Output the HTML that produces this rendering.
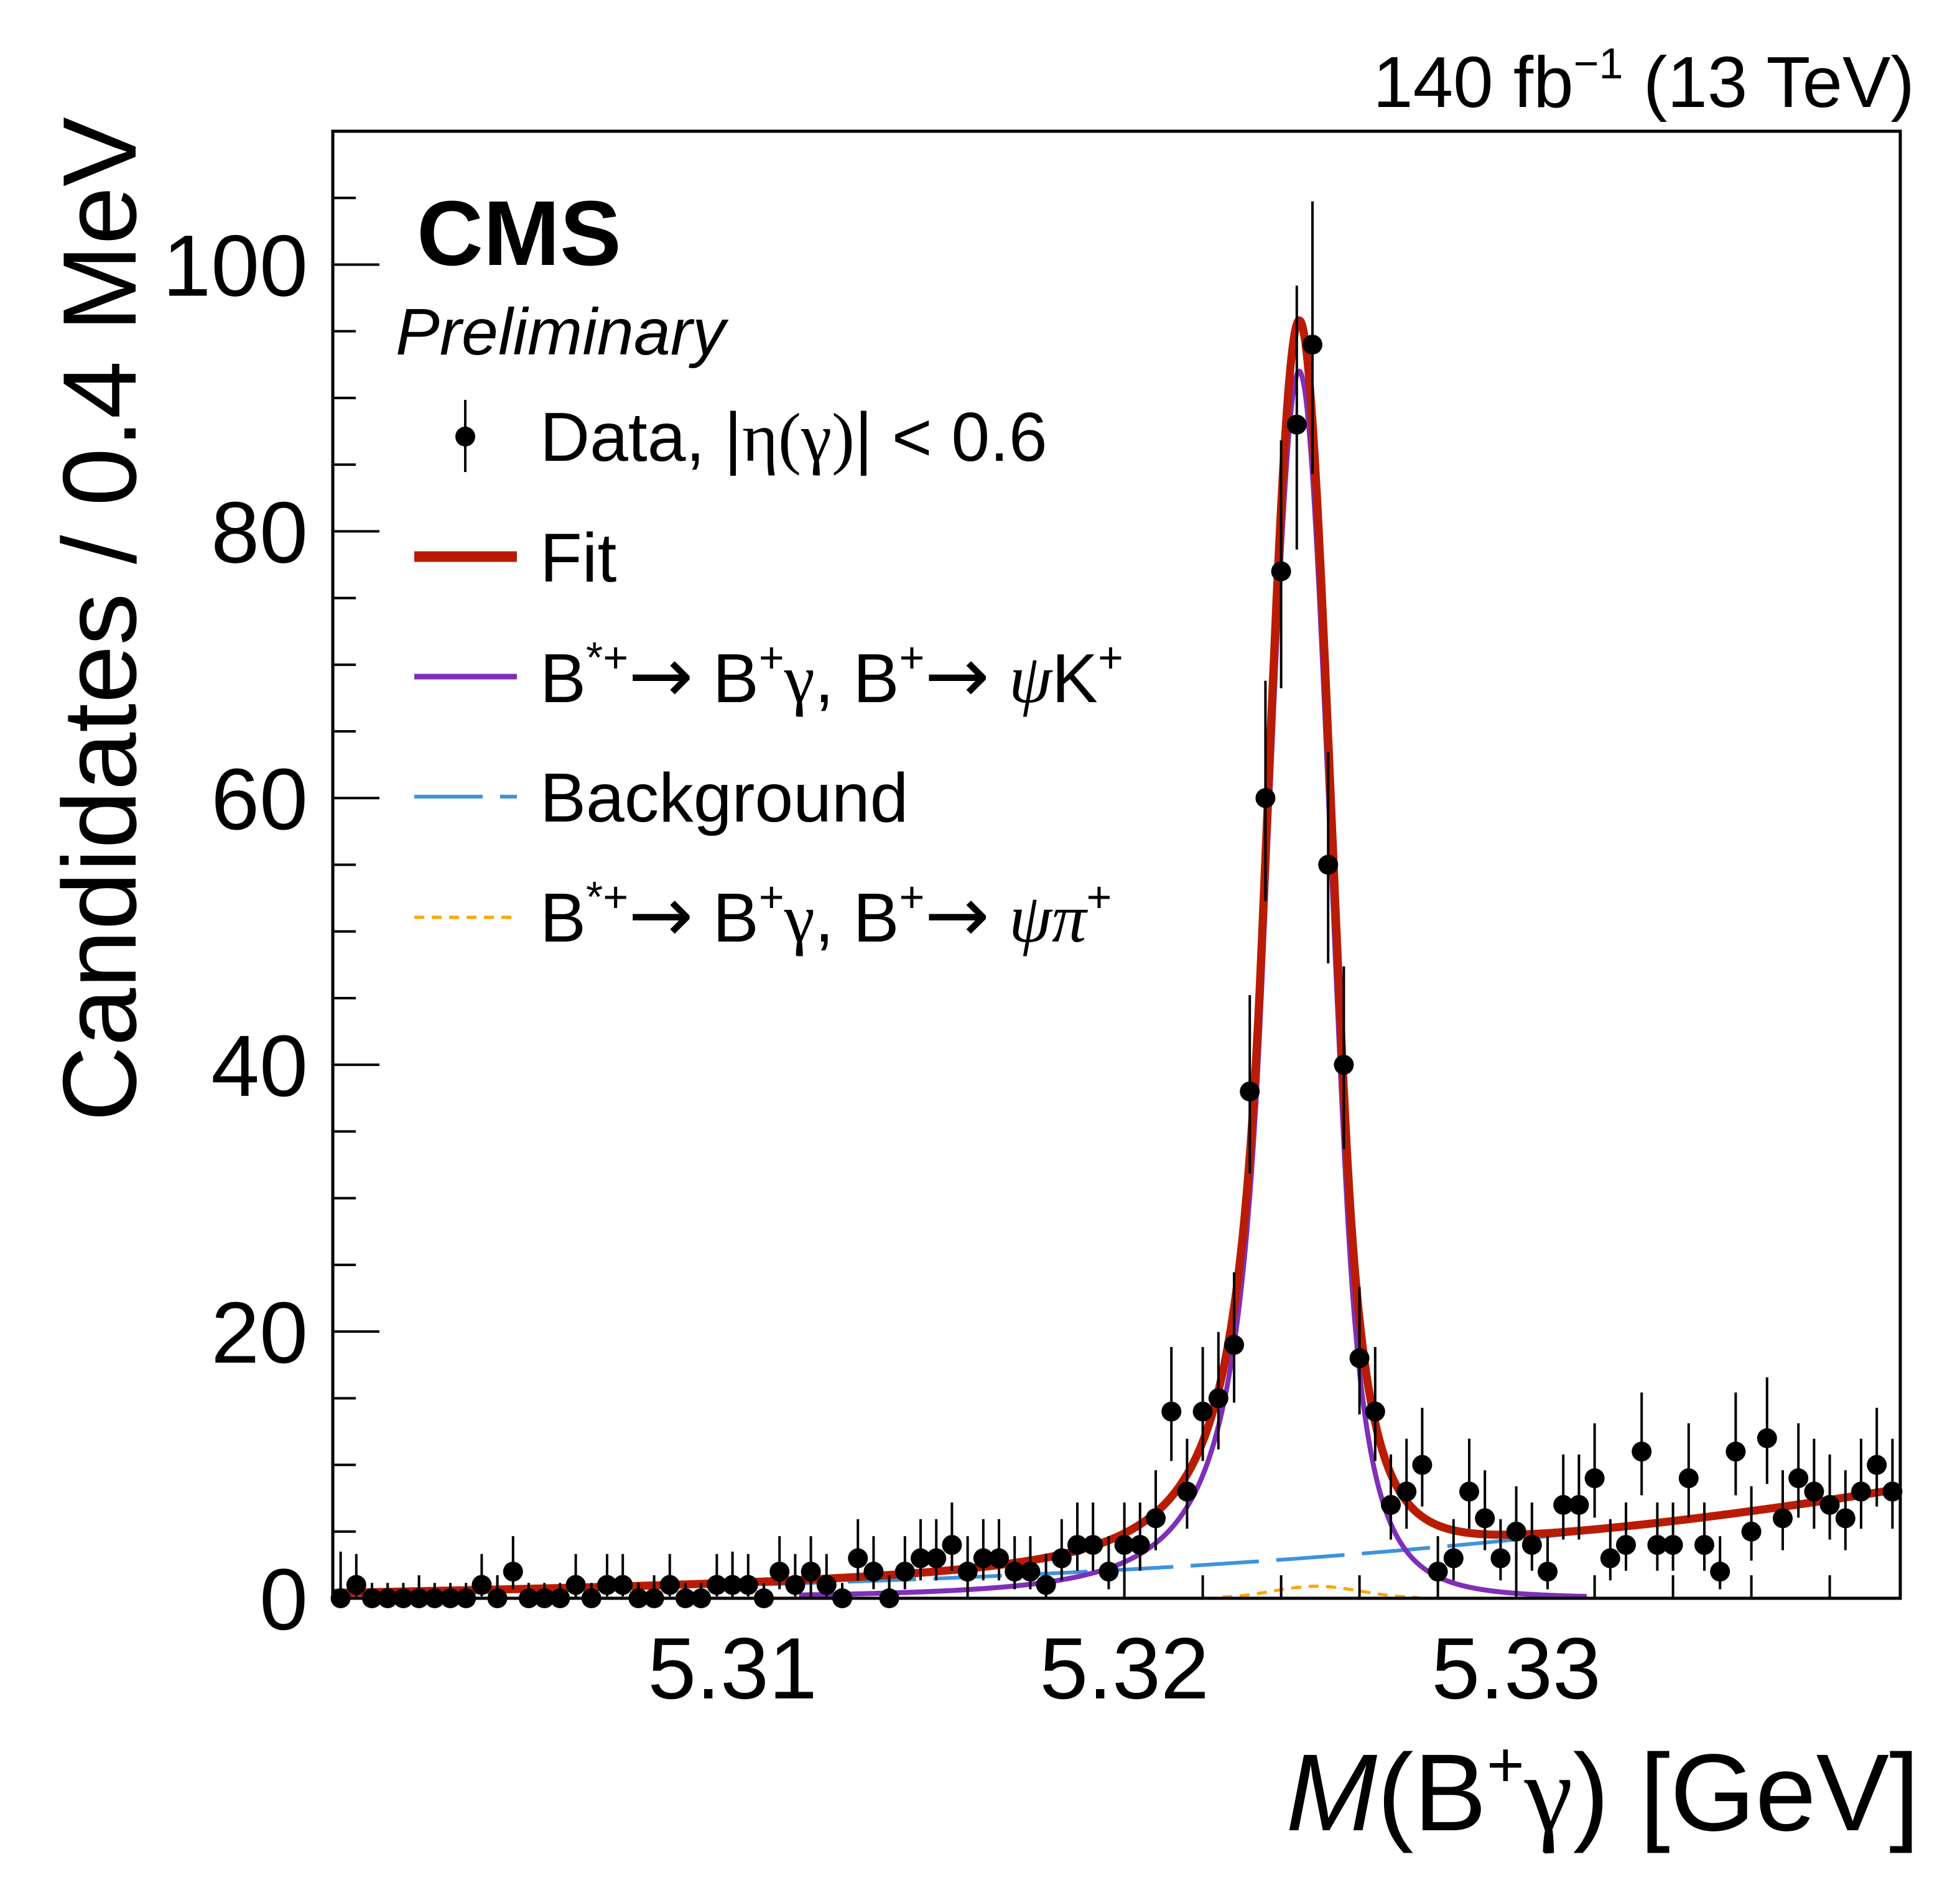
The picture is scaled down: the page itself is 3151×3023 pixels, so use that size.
<!DOCTYPE html>
<html><head><meta charset="utf-8">
<style>
html,body{margin:0;padding:0;background:#fff;}
svg{display:block;font-family:"Liberation Sans",sans-serif;}
</style></head>
<body>
<svg id="chart" width="3151" height="3023" viewBox="0 0 3151 3023" xmlns="http://www.w3.org/2000/svg">
<rect x="0" y="0" width="3151" height="3023" fill="#fff"/>
<g id="curves"></g>
<g id="points"></g>
<g id="axes"></g>
<rect x="535" y="211" width="2520" height="2359" fill="none" stroke="#000" stroke-width="5"/>
<text x="670" y="426" font-size="148" font-weight="bold">CMS</text>
<text x="636" y="570" font-size="106" font-style="italic">Preliminary</text>
<text x="3078" y="172" font-size="116" text-anchor="end">140 fb<tspan font-size="70" dy="-46">−1</tspan><tspan dy="46"> (13 TeV)</tspan></text>
<text transform="translate(218,188) rotate(-90)" font-size="168" text-anchor="end">Candidates / 0.4 MeV</text>
<text x="3086" y="2943" font-size="176" text-anchor="end"><tspan font-style="italic">M</tspan>(B<tspan font-size="104" dy="-70">+</tspan><tspan dy="70" font-family="'Liberation Serif',serif">γ</tspan>) [GeV]</text>
<g font-size="111">
 <g>
  <line x1="748" y1="643" x2="748" y2="759" stroke="#000" stroke-width="4"/>
  <circle cx="748" cy="702" r="16" fill="#000"/>
  <text x="868" y="741">Data, |<tspan font-family="'Liberation Serif',serif">η(γ)</tspan>| &lt; 0.6</text>
 </g>
 <g>
  <line x1="666" y1="895" x2="831" y2="895" stroke="#b91c02" stroke-width="17"/>
  <text x="868" y="935">Fit</text>
 </g>
 <g>
  <line x1="666" y1="1088" x2="831" y2="1088" stroke="#7f2fb8" stroke-width="9"/>
  <text x="868" y="1129">B<tspan font-size="70" dy="-48">*+</tspan><tspan dy="48" font-family="'DejaVu Sans',sans-serif" font-size="125">→</tspan> B<tspan font-size="70" dy="-48">+</tspan><tspan dy="48" font-family="'Liberation Serif',serif">γ</tspan>, B<tspan font-size="70" dy="-48">+</tspan><tspan dy="48" font-family="'DejaVu Sans',sans-serif" font-size="125">→</tspan> <tspan font-family="'Liberation Serif',serif" font-style="italic">ψ</tspan>K<tspan font-size="70" dy="-48">+</tspan></text>
 </g>
 <g>
  <line x1="666" y1="1281" x2="831" y2="1281" stroke="#3d93de" stroke-width="6" stroke-dasharray="110,28"/>
  <text x="868" y="1321">Background</text>
 </g>
 <g>
  <line x1="666" y1="1475" x2="831" y2="1475" stroke="#ffa500" stroke-width="5" stroke-dasharray="16,12"/>
  <text x="868" y="1514">B<tspan font-size="70" dy="-48">*+</tspan><tspan dy="48" font-family="'DejaVu Sans',sans-serif" font-size="125">→</tspan> B<tspan font-size="70" dy="-48">+</tspan><tspan dy="48" font-family="'Liberation Serif',serif">γ</tspan>, B<tspan font-size="70" dy="-48">+</tspan><tspan dy="48" font-family="'DejaVu Sans',sans-serif" font-size="125">→</tspan> <tspan font-family="'Liberation Serif',serif" font-style="italic">ψπ</tspan><tspan font-size="70" dy="-48">+</tspan></text>
 </g>
</g>
</svg>
<script>
const counts = [0,1,0,0,0,0,0,0,0,1, 0,2,0,0,0,1,0,1,1,0, 0,1,0,0,1,1,1,0,2,1, 2,1,0,3,2,0,2,3,3,4, 2,3,3,2,2,1,3,4,4,2, 4,4,6,14,8,14,15,19,38,60, 77,88,94,55,40,18,14,7,8,10, 2,3,8,6,3,5,4,2,7,7, 9,3,4,11,4,4,9,4,2,11, 5,12,6,9,8,7,6,8,10,8];
const binStart = 5.2998;
const binWidth = 0.0004;
const xTicks = [5.31, 5.32, 5.33];
const xTickLabels = ["5.31", "5.32", "5.33"];
const yTicks = [0, 20, 40, 60, 80, 100];
const yTickLabels = ["0", "20", "40", "60", "80", "100"];
// fit model parameters
const sigPeak = [92];
const sigMean = [5.32446];
const sigSigma = [0.00081];
const bgParams = [0.35, 52.3, 90000];
const piParams = [0.9, 5.3249, 0.0011];

const NS = "http://www.w3.org/2000/svg";
const X0 = 535, X1 = 3055, Y0 = 2570, Y1 = 211;
const xmin = 5.2998, xmax = 5.3398, ymin = 0, ymax = 110;
const sx = v => X0 + (v - xmin) / (xmax - xmin) * (X1 - X0);
const sy = v => Y0 - (v - ymin) / (ymax - ymin) * (Y0 - Y1);
function mk(tag, attrs, parent) {
  const e = document.createElementNS(NS, tag);
  for (const k in attrs) e.setAttribute(k, attrs[k]);
  parent.appendChild(e);
  return e;
}
function cb(t) {
  const aL = 1.2, nL = 2.5, aR = 1.5, nR = 4;
  if (t < -aL) {
    const A = Math.pow(nL / aL, nL) * Math.exp(-aL * aL / 2), B = nL / aL - aL;
    return A / Math.pow(B - t, nL);
  }
  if (t > aR) {
    const A = Math.pow(nR / aR, nR) * Math.exp(-aR * aR / 2), B = nR / aR - aR;
    return A / Math.pow(B + t, nR);
  }
  return Math.exp(-t * t / 2);
}
const sig = x => sigPeak[0] * cb((x - sigMean[0]) / sigSigma[0]);
const bg = x => { const d = Math.max(0, x - xmin); return bgParams[0] + bgParams[1] * d + bgParams[2] * d * d * d; };
const pip = x => piParams[0] * Math.exp(-0.5 * Math.pow((x - piParams[1]) / piParams[2], 2));

const axes = document.getElementById('axes');
for (let v = 0; v <= 110; v += 5) {
  const major = v % 20 === 0;
  const t = mk('line', {x1: X0, x2: X0 + (major ? 75 : 37), y1: sy(v), y2: sy(v), stroke: '#000', 'stroke-width': 4}, axes);
  
  
}
yTicks.forEach((v, i) => {
  const t = mk('text', {x: 495, y: sy(v) + 50, 'font-size': 140, 'text-anchor': 'end'}, axes);
  t.textContent = yTickLabels[i];
  
  
});
for (let k = 0; k <= 20; k++) {
  const v = 5.300 + k * 0.002;
  if (v > xmax) break;
  const major = Math.abs(Math.round(v * 100) - v * 100) < 1e-6;
  const t = mk('line', {x1: sx(v), x2: sx(v), y1: Y0, y2: Y0 - (major ? 75 : 37), stroke: '#000', 'stroke-width': 4}, axes);
  
  
}
xTicks.forEach((v, i) => {
  const t = mk('text', {x: sx(v), y: 2731, 'font-size': 140, 'text-anchor': 'middle'}, axes);
  t.textContent = xTickLabels[i];
  
  
});

const curves = document.getElementById('curves');
function path(f, a, b, n) {
  let d = '';
  for (let i = 0; i <= n; i++) {
    const x = a + (b - a) * i / n;
    d += (i ? 'L' : 'M') + sx(x).toFixed(1) + ',' + sy(f(x)).toFixed(1);
  }
  return d;
}
const pPi = mk('path', {d: path(pip, 5.3225, 5.3275, 200), fill: 'none', stroke: '#ffa500', 'stroke-width': 5, 'stroke-dasharray': '16,12'}, curves);


const pBg = mk('path', {d: path(bg, xmin, xmax, 400), fill: 'none', stroke: '#3d93de', 'stroke-width': 6, 'stroke-dasharray': '110,28'}, curves);


const pSig = mk('path', {d: path(sig, 5.3117, 5.3318, 1200), fill: 'none', stroke: '#7f2fb8', 'stroke-width': 8}, curves);


const pFit = mk('path', {d: path(x => sig(x) + bg(x) + pip(x), xmin, xmax, 2000), fill: 'none', stroke: '#b91c02', 'stroke-width': 13, 'stroke-linejoin': 'round'}, curves);



const pts = document.getElementById('points');
counts.forEach((n, i) => {
  const x = binStart + (i + 0.5) * binWidth;
  const g = mk('g', {}, pts);
  
  
  const up = n > 0 ? n + 1 + Math.sqrt(n + 0.75) : 1.15;
  const dn = n > 0 ? Math.max(0, n - Math.sqrt(n - 0.25)) : 0;
  mk('line', {x1: sx(x), x2: sx(x), y1: sy(up), y2: sy(dn), stroke: '#000', 'stroke-width': 4}, g);
  mk('circle', {cx: sx(x), cy: sy(n), r: 16, fill: '#000'}, g);
});
</script>
</body></html>
